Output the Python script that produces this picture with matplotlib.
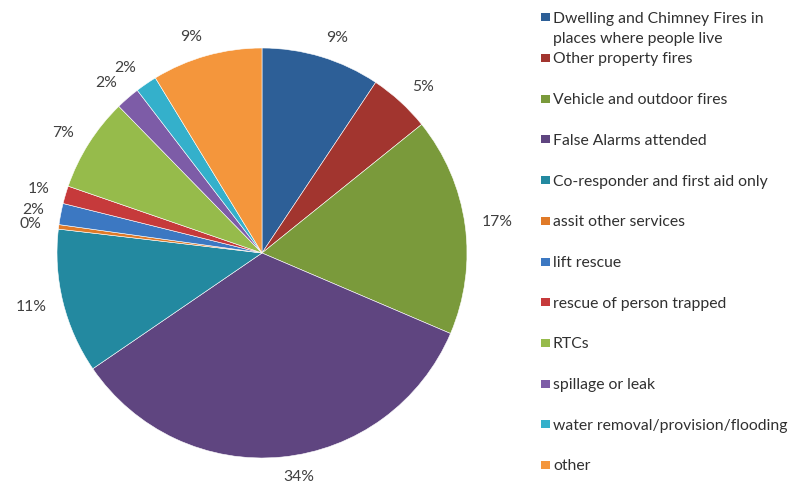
import matplotlib
matplotlib.use("Agg")
import numpy as np
import matplotlib.pyplot as plt
from matplotlib.patches import Rectangle

categories = [
    "Dwelling and Chimney Fires in\nplaces where people live",
    "Other property fires",
    "Vehicle and outdoor fires",
    "False Alarms attended",
    "Co-responder and first aid only",
    "assit other services",
    "lift rescue",
    "rescue of person trapped",
    "RTCs",
    "spillage or leak",
    "water removal/provision/flooding",
    "other",
]
shares = [9.35, 4.85, 17.2, 34.0, 11.4, 0.35, 1.67, 1.4, 7.4, 1.9, 1.7, 8.7]
colors = [
    "#2D5F97", "#A2352F", "#7A9A3B", "#5F4580", "#2389A0", "#E07A28",
    "#3C78C2", "#C63A3B", "#96BB4B", "#7D5CA7", "#34B0CB", "#F4963C",
]

W, H = 802, 491
fig = plt.figure(figsize=(W / 100, H / 100), dpi=100)
fig.patch.set_facecolor("white")

plt.rcParams["font.family"] = ["Lato", "DejaVu Sans"]
FS = 11.3

# pie area: centre (262, 253) px, radius 205 px
cx, cy, r = 262, 253, 205
ax = fig.add_axes([(cx - r) / W, (H - cy - r) / H, 2 * r / W, 2 * r / H])
wedges, _, autotexts = ax.pie(
    shares,
    colors=colors,
    startangle=90,
    counterclock=False,
    autopct="%.0f%%",
    pctdistance=1.145,
    wedgeprops=dict(edgecolor="white", linewidth=0.4),
    textprops=dict(color="#404040", fontsize=FS),
)
ax.set_xlim(-1, 1)
ax.set_ylim(-1, 1)
ax.set_aspect("equal")
ax.axis("off")

# outside-end labels: push each label box clear of the rim along its
# slice's mid-angle
fig.canvas.draw()
renderer = fig.canvas.get_renderer()
rx_px, ry_px = 222, 219
for t in autotexts:
    x, y = t.get_position()
    ang = np.arctan2(y, x)
    bb = t.get_window_extent(renderer)
    hw, hh = bb.width / 2, bb.height / 2 * 0.8
    px = rx_px * np.cos(ang) + np.sign(np.cos(ang)) * hw
    py = ry_px * np.sin(ang) + np.sin(ang) * hh
    t.set_position((px / r, py / r))

# legend on the right, drawn entry by entry (one text per line)
lx_box, lx_text = 541, 553
first_y = 17
line_gap = 21
step = 40.7
y = first_y
for i, (lab, col) in enumerate(zip(categories, colors)):
    fig.patches.append(
        Rectangle((lx_box / W, (H - y - 4) / H), 9 / W, 8 / H,
                  transform=fig.transFigure, facecolor=col, edgecolor="none")
    )
    lines = lab.split("\n")
    for k, line in enumerate(lines):
        fig.text(lx_text / W, (H - y - k * line_gap) / H, line, ha="left",
                 va="center_baseline", fontsize=FS, color="#303030")
    if i == 0:
        y = first_y + line_gap * (len(lines) - 1) + 20
    else:
        y += step

fig.savefig("out.png", dpi=100, facecolor="white")
